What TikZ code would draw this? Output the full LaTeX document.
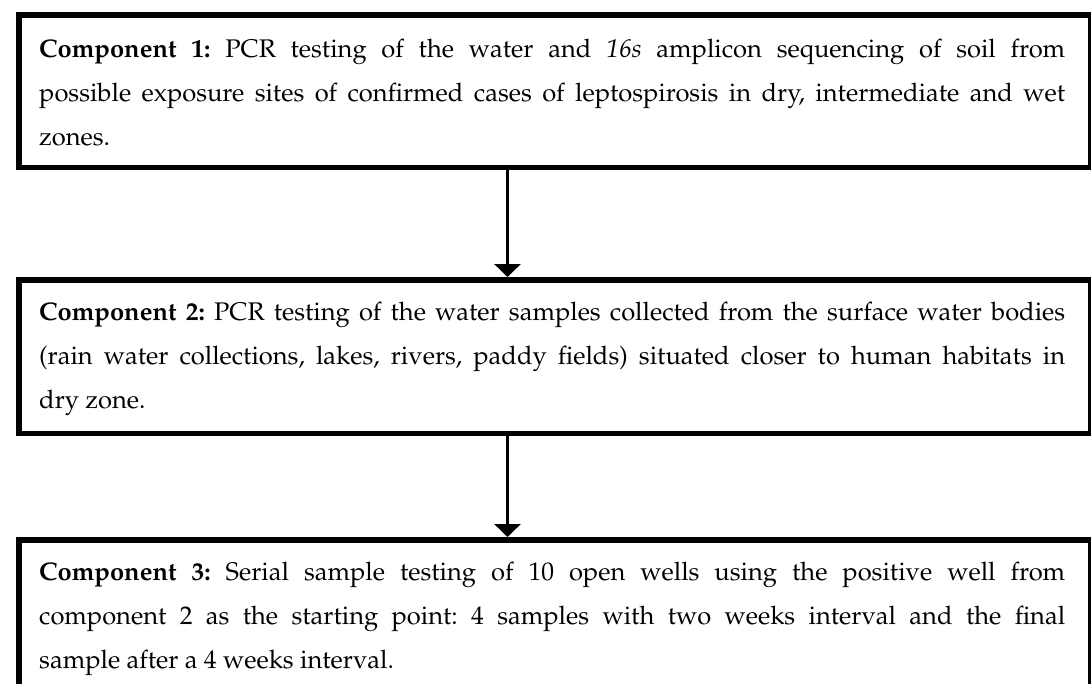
\documentclass[tikz,border=0pt]{standalone}
\usepackage[T1]{fontenc}
\usepackage{mathpazo}
\usetikzlibrary{arrows.meta}
\hyphenpenalty=10000
\exhyphenpenalty=10000
\frenchspacing
\tikzset{
  compbox/.style={draw=black, line width=5.5pt, rectangle, inner sep=0pt,
    minimum width=1071.5pt, anchor=north west},
  comptext/.style={inner sep=0pt, text width=1026pt, align=justify, anchor=base west,
    font=\fontsize{25.5}{44}\selectfont},
  flowarrow/.style={line width=3pt, -{Triangle[width=26pt,length=13pt]}}
}
\begin{document}
\begin{tikzpicture}[x=1pt,y=-1pt]
\useasboundingbox (0,0) rectangle (1091,683);
\clip (0,0) rectangle (1091,683);
\node[compbox, minimum height=152.5pt] (b1) at (16,12) {};
\node[compbox, minimum height=153.5pt] (b2) at (16,277) {};
\node[compbox, minimum height=170pt] (b3) at (16,537) {};
\node[comptext] (t1) at (39,57) {\textbf{Component 1:} PCR testing of the water and \textit{16s} amplicon sequencing of soil from\linebreak possible exposure sites of confirmed cases of leptospirosis in dry, intermediate and wet\linebreak zones.};
\node[comptext] (t2) at (39,320) {\textbf{Component 2:} PCR testing of the water samples collected from the surface water bodies\linebreak (rain water collections, lakes, rivers, paddy fields) situated closer to human habitats in\linebreak dry zone.};
\node[comptext] (t3) at (39,580) {\textbf{Component 3:} Serial sample testing of 10 open wells using the positive well from\linebreak component 2 as the starting point: 4 samples with two weeks interval and the final\linebreak sample after a 4 weeks interval.};
\coordinate (ax) at (507.5,0);
\draw[flowarrow] (b1.south -| ax) -- (b2.north -| ax);
\draw[flowarrow] (b2.south -| ax) -- (b3.north -| ax);
\end{tikzpicture}
\end{document}
